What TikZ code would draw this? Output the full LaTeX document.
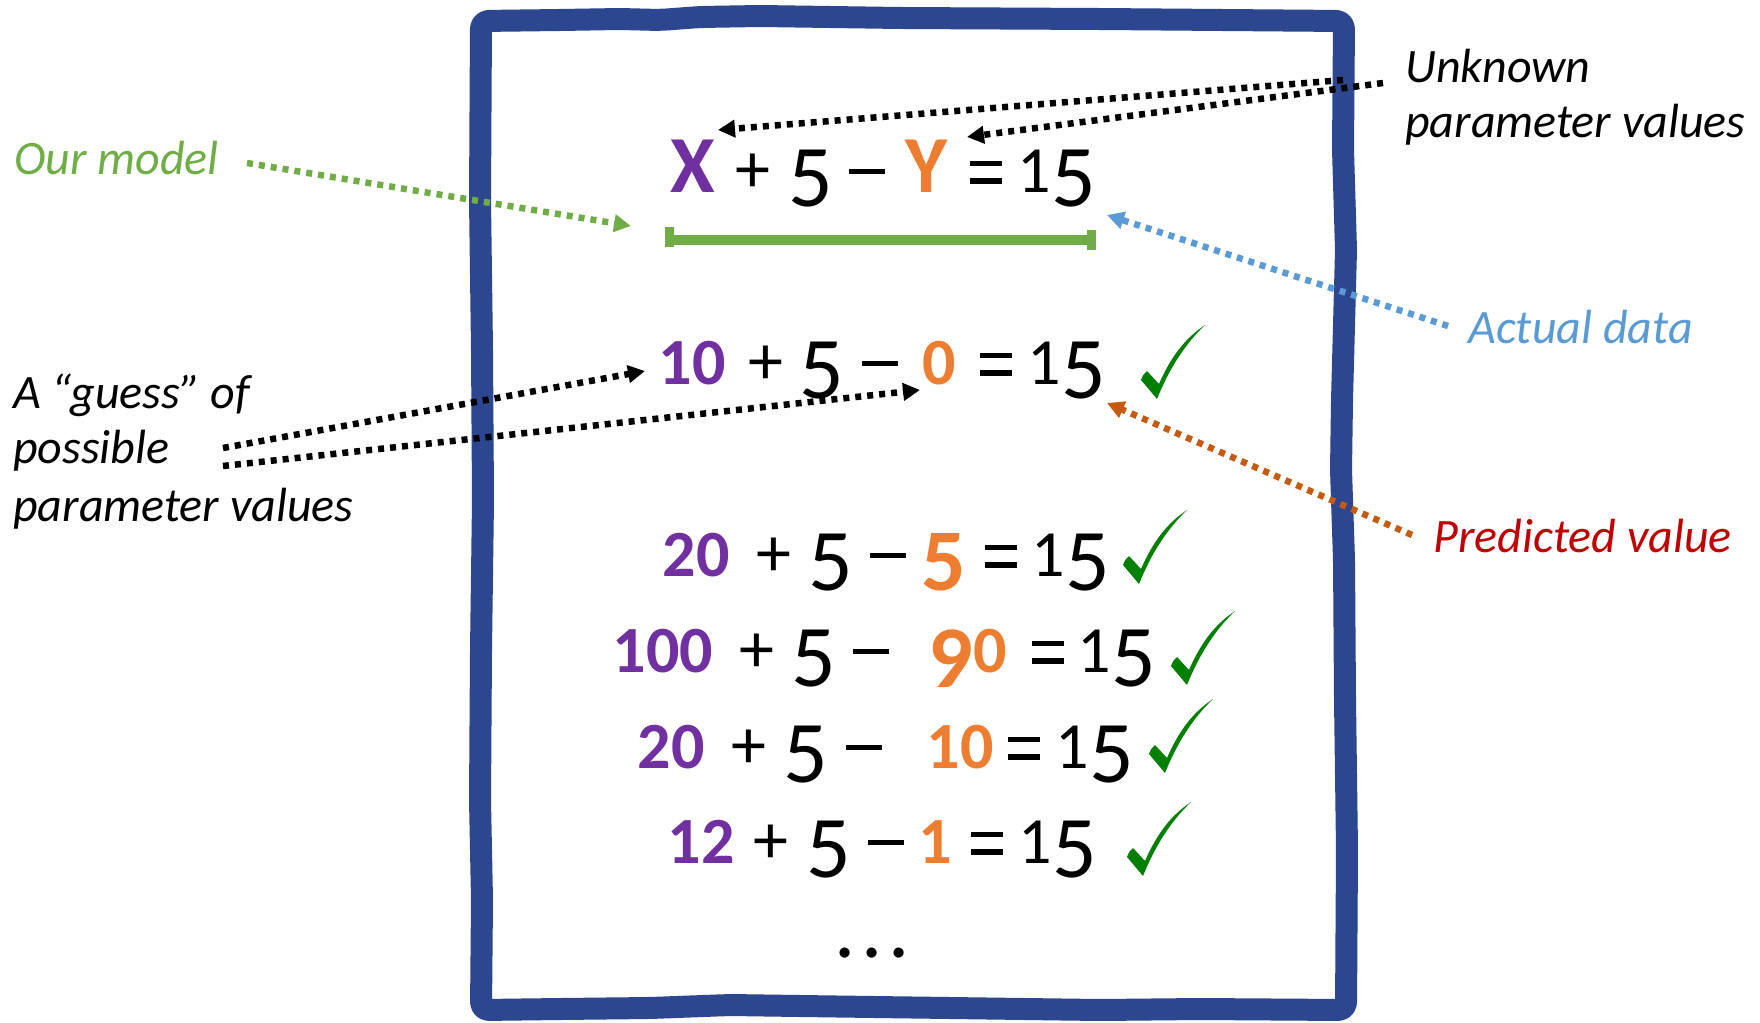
\documentclass[tikz,border=0pt]{standalone}
\usepackage{fontspec}
\setmainfont{Carlito}
\usetikzlibrary{arrows.meta}
\definecolor{framec}{HTML}{2C4690}
\definecolor{purp}{HTML}{7030A0}
\definecolor{oran}{HTML}{ED7D31}
\definecolor{gbar}{HTML}{70AD47}
\definecolor{ablue}{HTML}{5B9BD5}
\definecolor{predc}{HTML}{C00000}
\definecolor{parrow}{HTML}{C55A11}
\definecolor{tickg}{HTML}{008000}

\newcommand\dfive{\raisebox{-14pt}{\fontsize{88}{88}\selectfont 5}}
\newcommand\dnine{\raisebox{-15pt}{\fontsize{88}{88}\selectfont 9}}
\newcommand\pnum[1]{{\color{purp}\bfseries #1}}
\newcommand\onum[1]{{\color{oran}\bfseries #1}}
\newcommand\opf[1]{{\fontsize{70}{72}\selectfont #1}}
\newcommand\minusf{\rule[18pt]{36pt}{5.5pt}}
\newcommand\eqf{\rlap{\rule[26pt]{32pt}{5.5pt}}\rule[8.5pt]{32pt}{5.5pt}}
\newcommand\varX{{\fontsize{81}{85}\selectfont\bfseries\color{purp}X}}
\newcommand\varY{{\fontsize{81}{85}\selectfont\bfseries\color{oran}Y}}
\newcommand\eqrow[3]{\foreach \tokx/\tokt [count=\toki] in {#3} {\node[tok] (#1t\toki) at (\tokx,#2) {\tokt};}}

\begin{document}
\begin{tikzpicture}[x=1pt, y=-1pt,
 tok/.style={anchor=base, inner sep=0pt, font=\fontsize{66}{70}\selectfont},
 lab/.style={anchor=base west, inner sep=0pt, font=\fontsize{48}{56}\selectfont\itshape},
 ptr/.style={line width=6.5pt, dash pattern=on 6pt off 6pt, -{Triangle[length=17pt,width=17pt]}},
 framest/.style={framec, line width=22pt, line join=round, rounded corners=8pt},
 tick/.pic={\fill[tickg] (0,0) -- (-16,-19) .. controls (-14,-24) .. (-10,-28) -- (2,-15)
   .. controls (15,-45) and (30,-62) .. (48,-74) .. controls (28,-55) and (12,-30) .. (0,0) -- cycle;}
]
\useasboundingbox (0,0) rectangle (1760,1022);
\fill[white] (0,0) rectangle (1760,1022);

% frame
\draw[framest] (481,21) -- (560,20) -- (620,19) -- (660,20) -- (700,17) -- (760,16) -- (900,18) -- (1100,19) -- (1344,21)
  -- (1343,150) -- (1346,250) -- (1342,400) -- (1341,470) -- (1344,560) -- (1345,700) -- (1347,850) -- (1346,1010)
  -- (1200,1009) -- (1100,1010) -- (950,1008) -- (800,1006) -- (730,1005) -- (650,1008) -- (560,1009) -- (481,1010)
  -- (482,900) -- (480,800) -- (481,650) -- (483,500) -- (482,350) -- (480,200) -- cycle;

% model bar
\coordinate (barL) at (670,240);
\coordinate (barR) at (1091,240);
\draw[gbar, line width=10pt] (barL) -- (barR);
\fill[gbar] (665,227) rectangle (674,247);
\fill[gbar] (1087,230) rectangle (1096,250);

% equations
\eqrow{ra}{192}{693/\varX, 753/\opf{+}, 811/\dfive, 867/\minusf, 927/\varY, 986/\eqf, 1057/1\dfive}
\eqrow{rb}{384}{692/\pnum{10}, 766/\opf{+}, 822/\dfive, 880/\minusf, 939/\onum{0}, 996/\eqf, 1067/1\dfive}
\eqrow{rc}{576}{696/\pnum{20}, 774/\opf{+}, 831/\dfive, 888/\minusf, 944/\onum{\dfive}, 1001/\eqf, 1071/1\dfive}
\eqrow{rd}{672}{663/\pnum{100}, 757/\opf{+}, 814/\dfive, 871/\minusf, 968/\onum{\dnine0}, 1048/\eqf, 1117/1\dfive}
\eqrow{re}{768}{671/\pnum{20}, 749/\opf{+}, 806/\dfive, 864/\minusf, 960/\onum{10}, 1024/\eqf, 1095/1\dfive}
\eqrow{rf}{863}{701/\pnum{12}, 771/\opf{+}, 829/\dfive, 886/\minusf, 935/\onum{1}, 987/\eqf, 1058/1\dfive}
\node[inner sep=0pt, font=\fontsize{84}{84}\selectfont] (dots) at (872,953) {.\kern6pt.\kern6pt.};

% ticks
\pic (tkb) at (1157,399) {tick};
\pic (tkc) at (1139,584) {tick};
\pic (tkd) at (1187,685) {tick};
\pic (tke) at (1165,773) {tick};
\pic (tkf) at (1143,876) {tick};

% labels
\node[lab, text=gbar] (ourmodel) at (14,174) {Our model};
\node[lab] (unk1) at (1405,83) {Unknown};
\node[lab] (unk2) at (1405,137) {parameter values};
\node[lab] (gs1) at (13,408) {A “guess” of};
\node[lab] (gs2) at (13,463) {possible};
\node[lab] (gs3) at (13,521) {parameter values};
\node[lab, text=ablue] (actual) at (1468,343) {Actual data};
\node[lab, text=predc] (predicted) at (1433,552) {Predicted value};

% connectors
\coordinate (omS) at (247,163);  \coordinate (omE) at (631,226);
\coordinate (ukS1) at (1343,80); \coordinate (ukE1) at (718,130);
\coordinate (ukS2) at (1383,83); \coordinate (ukE2) at (967,137);
\coordinate (acS) at (1448,326); \coordinate (acE) at (1107,215);
\coordinate (prS) at (1412,535); \coordinate (prE) at (1107,403);
\coordinate (gsS1) at (223,448); \coordinate (gsE1) at (645,371);
\coordinate (gsS2) at (223,466); \coordinate (gsE2) at (920,390);

\draw[ptr, gbar] (omS) -- (omE);
\draw[ptr, black] (ukS1) -- (ukE1);
\draw[ptr, black] (ukS2) -- (ukE2);
\draw[ptr, ablue] (acS) -- (acE);
\draw[ptr, parrow] (prS) -- (prE);
\draw[ptr, black] (gsS1) -- (gsE1);
\draw[ptr, black] (gsS2) -- (gsE2);
\end{tikzpicture}
\end{document}
